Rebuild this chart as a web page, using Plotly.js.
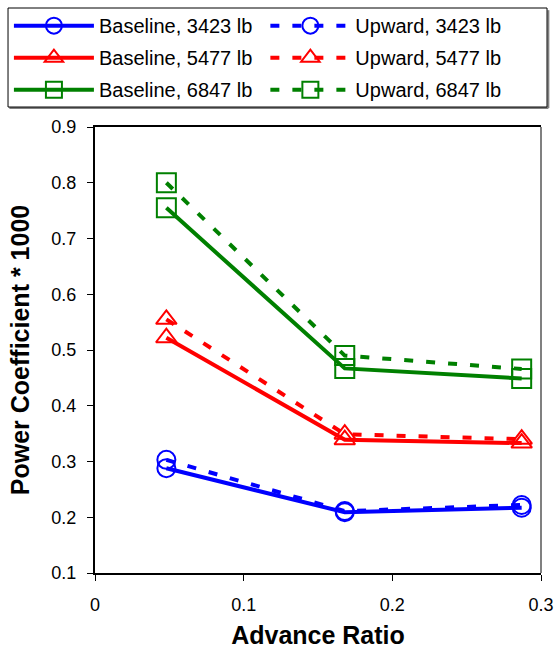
<!DOCTYPE html>
<html>
<head>
<meta charset="utf-8">
<script src="https://cdn.plot.ly/plotly-3.0.1.min.js"></script>
<style>html,body{margin:0;padding:0;background:#fff;}#chart{width:558px;height:649px;}</style>
</head>
<body>
<div id="chart"></div>
<script>
const advanceRatio = [0.048, 0.168, 0.287];
const baseline3423 = [0.288, 0.209, 0.217];
const upward3423 = [0.303, 0.211, 0.222];
const baseline5477 = [0.522, 0.339, 0.333];
const upward5477 = [0.555, 0.349, 0.340];
const baseline6847 = [0.755, 0.467, 0.449];
const upward6847 = [0.800, 0.490, 0.466];
const seriesNames = ["Baseline, 3423 lb", "Upward, 3423 lb", "Baseline, 5477 lb", "Upward, 5477 lb", "Baseline, 6847 lb", "Upward, 6847 lb"];
const xTicks = [0, 0.1, 0.2, 0.3];
const yTicks = [0.1, 0.2, 0.3, 0.4, 0.5, 0.6, 0.7, 0.8, 0.9];

const colors = ["#0000ff", "#0000ff", "#ff0000", "#ff0000", "#008000", "#008000"];
const symbols = ["circle-open", "circle-open", "triangle-up-open", "triangle-up-open", "square-open", "square-open"];
const sizes = [18, 18, 18, 18, 19, 19];
const ys = [baseline3423, upward3423, baseline5477, upward5477, baseline6847, upward6847];

const traces = ys.map((y, i) => ({
  x: advanceRatio, y: y, name: seriesNames[i], type: "scatter", mode: "lines+markers",
  legend: i % 2 === 1 ? "legend2" : "legend",
  legendgroup: "g" + i,
  line: {color: colors[i], width: 4, dash: i % 2 === 1 ? "9px,13px" : "solid"},
  marker: {symbol: symbols[i], size: sizes[i], color: colors[i], line: {color: colors[i], width: 2}}
}));

const font = "Liberation Sans, Arial, sans-serif";
const legendBase = {
  yanchor: "top", xanchor: "left", y: 1.271, itemwidth: 80,
  bgcolor: "rgba(0,0,0,0)", borderwidth: 0, tracegroupgap: 3,
  font: {family: font, size: 20, color: "#000"}
};
const layout = {
  width: 558, height: 649,
  margin: {l: 95, r: 17, t: 127, b: 76, autoexpand: false},
  paper_bgcolor: "#fff", plot_bgcolor: "#fff",
  font: {family: font, color: "#000"},
  showlegend: true,
  legend: Object.assign({}, legendBase, {x: -0.193}),
  legend2: Object.assign({}, legendBase, {x: 0.382}),
  xaxis: {
    range: [0, 0.3], tickvals: xTicks, ticktext: xTicks.map(String),
    showgrid: false, zeroline: false, showline: true, linecolor: "#000", linewidth: 2, mirror: true,
    ticks: "outside", ticklen: 6, tickcolor: "#000", ticklabelstandoff: 8,
    tickfont: {family: font, size: 18},
    title: {text: "<b>Advance Ratio</b>", font: {family: font, size: 25}, standoff: 17}
  },
  yaxis: {
    range: [0.1, 0.9], tickvals: yTicks, ticktext: yTicks.map(v => v.toFixed(1)),
    showgrid: false, zeroline: false, showline: true, linecolor: "#000", linewidth: 2,
    ticks: "outside", ticklen: 6, tickcolor: "#000", ticklabelstandoff: 7,
    tickfont: {family: font, size: 18},
    title: {text: "<b>Power Coefficient * 1000</b>", font: {family: font, size: 25}, standoff: 15}
  },
  shapes: [
    {type: "line", xref: "paper", yref: "paper", x0: 1, x1: 1, y0: 0, y1: 1, line: {color: "#808080", width: 2}},
    {type: "line", xref: "paper", yref: "paper", x0: -0.192, x1: 1.0165, y0: 1.0425, y1: 1.0425, line: {color: "#808080", width: 2}},
    {type: "line", xref: "paper", yref: "paper", x0: 1.0165, x1: 1.0165, y0: 1.0425, y1: 1.262, line: {color: "#808080", width: 2}},
    {type: "rect", xref: "paper", yref: "paper", x0: -0.195, x1: 1.0135, y0: 1.0448, y1: 1.2668, line: {color: "#000", width: 1}, fillcolor: "rgba(0,0,0,0)"}
  ]
};
Plotly.newPlot("chart", traces, layout, {displayModeBar: false, staticPlot: true});
</script>
</body>
</html>
